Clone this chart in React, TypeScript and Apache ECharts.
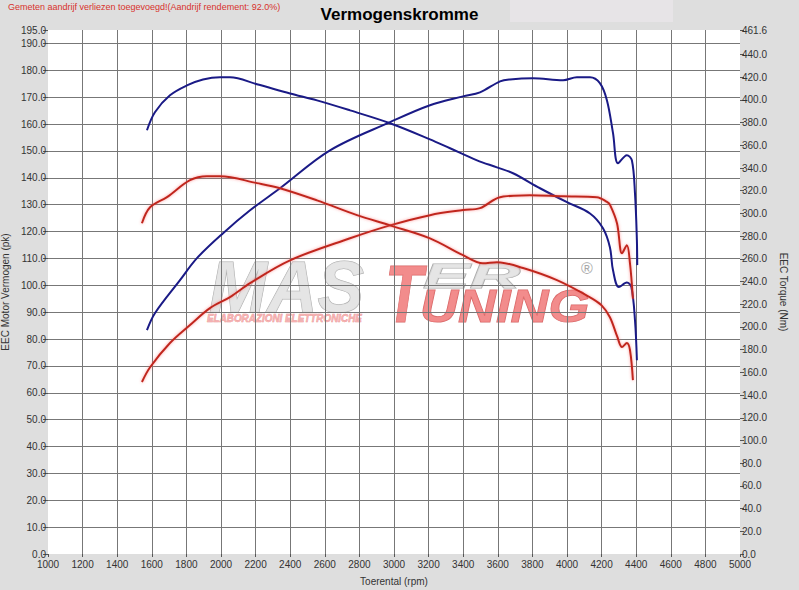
import React, { useEffect, useRef } from 'react';
import * as echarts from 'echarts';

const chartTitle = 'Vermogenskromme';
const noteText = 'Gemeten aandrijf verliezen toegevoegd!(Aandrijf rendement: 92.0%)';
const xAxisName = 'Toerental (rpm)';
const leftAxisName = 'EEC Motor Vermogen (pk)';
const rightAxisName = 'EEC Torque (Nm)';

const rpmMin = 1000;
const rpmMax = 5000;
const rpmStep = 200;
const pkMin = 0;
const pkMax = 195;
const pkStep = 10;
const nmMax = 461.6;
const nmTicks = [0, 20, 40, 60, 80, 100, 120, 140, 160, 180, 200, 220, 240, 260, 280, 300, 320, 340, 360, 380, 400, 420, 440, 461.6];

// Blue (tuned) power, pk
const bluePowerRpm = [1572, 1618, 1763, 1861, 2012, 2168, 2341, 2630, 2977, 3208, 3399, 3497, 3613, 3670, 3803, 3977, 4057, 4133, 4190, 4231, 4266, 4295, 4346, 4375, 4393, 4404, 4406];
const bluePowerPk = [83.3, 89.6, 101.9, 110.1, 119.4, 127.9, 136.1, 150.2, 160.7, 167.0, 170.3, 171.8, 175.9, 176.6, 177.0, 176.3, 177.4, 177.4, 175.2, 168.8, 156.6, 145.4, 148.4, 146.5, 134.2, 116.8, 107.5];

// Blue (tuned) torque, Nm
const blueTorqueRpm = [1572, 1618, 1705, 1803, 1896, 1994, 2052, 2208, 2399, 2555, 2746, 2977, 3208, 3324, 3480, 3595, 3688, 3844, 4000, 4133, 4208, 4248, 4266, 4300, 4346, 4372, 4393, 4404];
const blueTorqueNm = [373.3, 389.2, 404.1, 412.8, 418.0, 420.0, 420.0, 413.8, 405.7, 399.6, 390.8, 379.5, 365.3, 357.4, 346.8, 340.6, 335.4, 322.2, 309.9, 300.0, 287.0, 270.3, 249.9, 235.1, 239.1, 235.1, 205.9, 170.7];

// Red (stock) power, pk
const redPowerRpm = [1543, 1590, 1705, 1821, 1936, 2052, 2168, 2399, 2746, 2977, 3208, 3400, 3497, 3613, 3786, 3977, 4173, 4231, 4248, 4289, 4318, 4346, 4364, 4381];
const redPowerPk = [64.0, 69.5, 78.5, 85.2, 91.5, 95.6, 100.8, 109.3, 117.5, 122.3, 126.1, 128.0, 128.7, 132.8, 133.5, 133.1, 132.8, 131.0, 130.0, 123.1, 111.9, 114.9, 108.2, 95.0];

// Red (stock) torque, Nm
const redTorqueRpm = [1543, 1590, 1688, 1821, 1919, 1994, 2208, 2341, 2555, 2786, 2977, 3208, 3399, 3514, 3595, 3746, 3942, 4133, 4200, 4248, 4290, 4318, 4346, 4364, 4381];
const redTorqueNm = [291.4, 305.4, 314.4, 329.3, 332.8, 332.8, 326.7, 322.2, 311.5, 298.5, 289.5, 278.1, 263.2, 256.1, 257.1, 251.9, 241.2, 226.1, 219.0, 208.6, 191.7, 182.3, 185.8, 179.7, 153.2];

const blueColor = '#1a1a86';
const redColor = '#c0281f';
const gridColor = '#777777';
const labelColor = '#333333';
const font = '"Liberation Sans", Arial, sans-serif';

const zip = (xs: number[], ys: number[]) => xs.map((x, i) => [x, ys[i]]);

const pkTickCount = Math.floor((pkMax - pkMin) / pkStep) + 2; // 0..190 plus 195
const ySplitColors = Array.from({ length: pkTickCount }, (_, i) => (i === 0 || i === pkTickCount - 1 ? 'rgba(0,0,0,0)' : gridColor));
const rpmTickCount = (rpmMax - rpmMin) / rpmStep + 1;
const xSplitColors = Array.from({ length: rpmTickCount }, (_, i) => (i === 0 || i === rpmTickCount - 1 ? 'rgba(0,0,0,0)' : gridColor));

function buildOption(): any {
  const lineBase = {
    type: 'line',
    smooth: 0.35,
    showSymbol: false,
    symbol: 'none',
    z: 5,
  };
  return {
    animation: false,
    backgroundColor: '#dedede',
    title: {
      text: chartTitle,
      left: 'center',
      top: 1,
      textStyle: { fontSize: 17, fontWeight: 'bold', color: '#000', fontFamily: font },
    },
    grid: {
      left: 48,
      right: 59,
      top: 30,
      bottom: 36,
      show: true,
      backgroundColor: '#ffffff',
      borderWidth: 0,
      containLabel: false,
      outerBoundsMode: 'none',
    },
    xAxis: {
      type: 'value',
      min: rpmMin,
      max: rpmMax,
      interval: rpmStep,
      name: xAxisName,
      nameLocation: 'middle',
      nameGap: 22,
      nameMoveOverlap: false,
      nameTextStyle: { fontSize: 10, color: labelColor, fontFamily: font },
      axisLine: { show: false },
      axisTick: { show: true, length: 3, lineStyle: { color: '#555' } },
      axisLabel: {
        fontSize: 10,
        color: labelColor,
        fontFamily: font,
        margin: 5,
        showMinLabel: true,
        showMaxLabel: true,
        formatter: (v: number) => String(v),
      },
      splitLine: { show: true, lineStyle: { color: xSplitColors, width: 1 } },
    },
    yAxis: [
      {
        type: 'value',
        position: 'left',
        min: pkMin,
        max: pkMax,
        interval: pkStep,
        name: leftAxisName,
        nameLocation: 'middle',
        nameGap: 38,
        nameMoveOverlap: false,
        nameTextStyle: { fontSize: 10, color: labelColor, fontFamily: font },
        axisLine: { show: false },
        axisTick: { show: true, length: 5, lineStyle: { color: '#555' } },
        axisLabel: {
          fontSize: 10,
          color: labelColor,
          fontFamily: font,
          margin: 2,
          showMaxLabel: true,
          formatter: (v: number) => v.toFixed(1),
        },
        splitLine: { show: true, lineStyle: { color: ySplitColors, width: 1 } },
      },
      {
        type: 'value',
        position: 'right',
        min: 0,
        max: nmMax,
        name: rightAxisName,
        nameLocation: 'middle',
        nameGap: 38,
        nameMoveOverlap: false,
        nameRotate: -90,
        nameTextStyle: { fontSize: 10, color: labelColor, fontFamily: font },
        axisLine: { show: false },
        axisTick: { show: true, length: 4, customValues: nmTicks, lineStyle: { color: '#555' } },
        axisLabel: {
          fontSize: 10,
          color: labelColor,
          fontFamily: font,
          margin: 2,
          customValues: nmTicks,
          formatter: (v: number) => v.toFixed(1),
        },
        splitLine: { show: false },
      },
    ],
    graphic: [
      {
        type: 'rect',
        z: 0,
        shape: { x: 510, y: 0, width: 163, height: 22 },
        style: { fill: '#e7e4e7' },
        silent: true,
      },
      {
        type: 'text',
        x: 8,
        y: 7,
        style: {
          text: noteText,
          fill: '#d8322c',
          font: `9px ${font}`,
          textAlign: 'left',
          textVerticalAlign: 'middle',
        },
      },
      {
        type: 'group',
        z: 3,
        silent: true,
        children: [
          {
            type: 'text',
            x: 209,
            y: 287,
            scaleX: 0.97,
            style: {
              text: 'MAS',
              font: `italic bold 72px ${font}`,
              fill: 'rgba(225,225,225,0.85)',
              stroke: 'rgba(150,150,150,0.8)',
              lineWidth: 1,
              textAlign: 'left',
              textVerticalAlign: 'middle',
            },
          },
          {
            type: 'text',
            x: 385,
            y: 293,
            scaleX: 0.75,
            style: {
              text: 'T',
              font: `italic bold 82px ${font}`,
              fill: 'rgba(240,120,120,0.85)',
              stroke: 'rgba(200,70,70,0.8)',
              lineWidth: 1,
              textAlign: 'left',
              textVerticalAlign: 'middle',
            },
          },
          {
            type: 'text',
            x: 423,
            y: 276,
            scaleX: 2.0,
            style: {
              text: 'ER',
              font: `italic bold 35px ${font}`,
              fill: 'rgba(225,225,225,0.85)',
              stroke: 'rgba(150,150,150,0.8)',
              lineWidth: 1,
              textAlign: 'left',
              textVerticalAlign: 'middle',
            },
          },
          {
            type: 'text',
            x: 420,
            y: 306,
            scaleX: 1.12,
            style: {
              text: 'UNING',
              font: `italic bold 47px ${font}`,
              fill: 'rgba(240,120,120,0.85)',
              stroke: 'rgba(200,70,70,0.8)',
              lineWidth: 1,
              textAlign: 'left',
              textVerticalAlign: 'middle',
            },
          },
          {
            type: 'text',
            x: 207,
            y: 318,
            scaleX: 0.9,
            style: {
              text: 'ELABORAZIONI ELETTRONICHE',
              font: `italic bold 11px ${font}`,
              fill: 'rgba(245,170,170,0.9)',
              stroke: 'rgba(220,90,90,0.8)',
              lineWidth: 0.5,
              textAlign: 'left',
              textVerticalAlign: 'middle',
            },
          },
          {
            type: 'text',
            x: 587,
            y: 268,
            style: {
              text: '®',
              font: `16px ${font}`,
              fill: '#a8a8a8',
              textAlign: 'center',
              textVerticalAlign: 'middle',
            },
          },
        ],
      },
    ],
    series: [
      {
        ...lineBase,
        name: 'Vermogen getuned',
        yAxisIndex: 0,
        data: zip(bluePowerRpm, bluePowerPk),
        lineStyle: { color: blueColor, width: 2 },
      },
      {
        ...lineBase,
        name: 'Koppel getuned',
        yAxisIndex: 1,
        data: zip(blueTorqueRpm, blueTorqueNm),
        lineStyle: { color: blueColor, width: 2 },
      },
      {
        ...lineBase,
        name: 'Vermogen origineel',
        yAxisIndex: 0,
        data: zip(redPowerRpm, redPowerPk),
        lineStyle: { color: redColor, width: 2, shadowColor: 'rgba(255,90,90,0.6)', shadowBlur: 3 },
      },
      {
        ...lineBase,
        name: 'Koppel origineel',
        yAxisIndex: 1,
        data: zip(redTorqueRpm, redTorqueNm),
        lineStyle: { color: redColor, width: 2, shadowColor: 'rgba(255,90,90,0.6)', shadowBlur: 3 },
      },
    ],
  };
}

export default function App() {
  const ref = useRef<HTMLDivElement>(null);
  useEffect(() => {
    if (!ref.current) return;
    const chart = echarts.init(ref.current, undefined, { renderer: 'svg' });
    chart.setOption(buildOption());
    return () => chart.dispose();
  }, []);
  return (
    <div
      ref={ref}
      style={{ position: 'absolute', left: 0, top: 0, width: 799, height: 590, background: '#dedede' }}
    />
  );
}
